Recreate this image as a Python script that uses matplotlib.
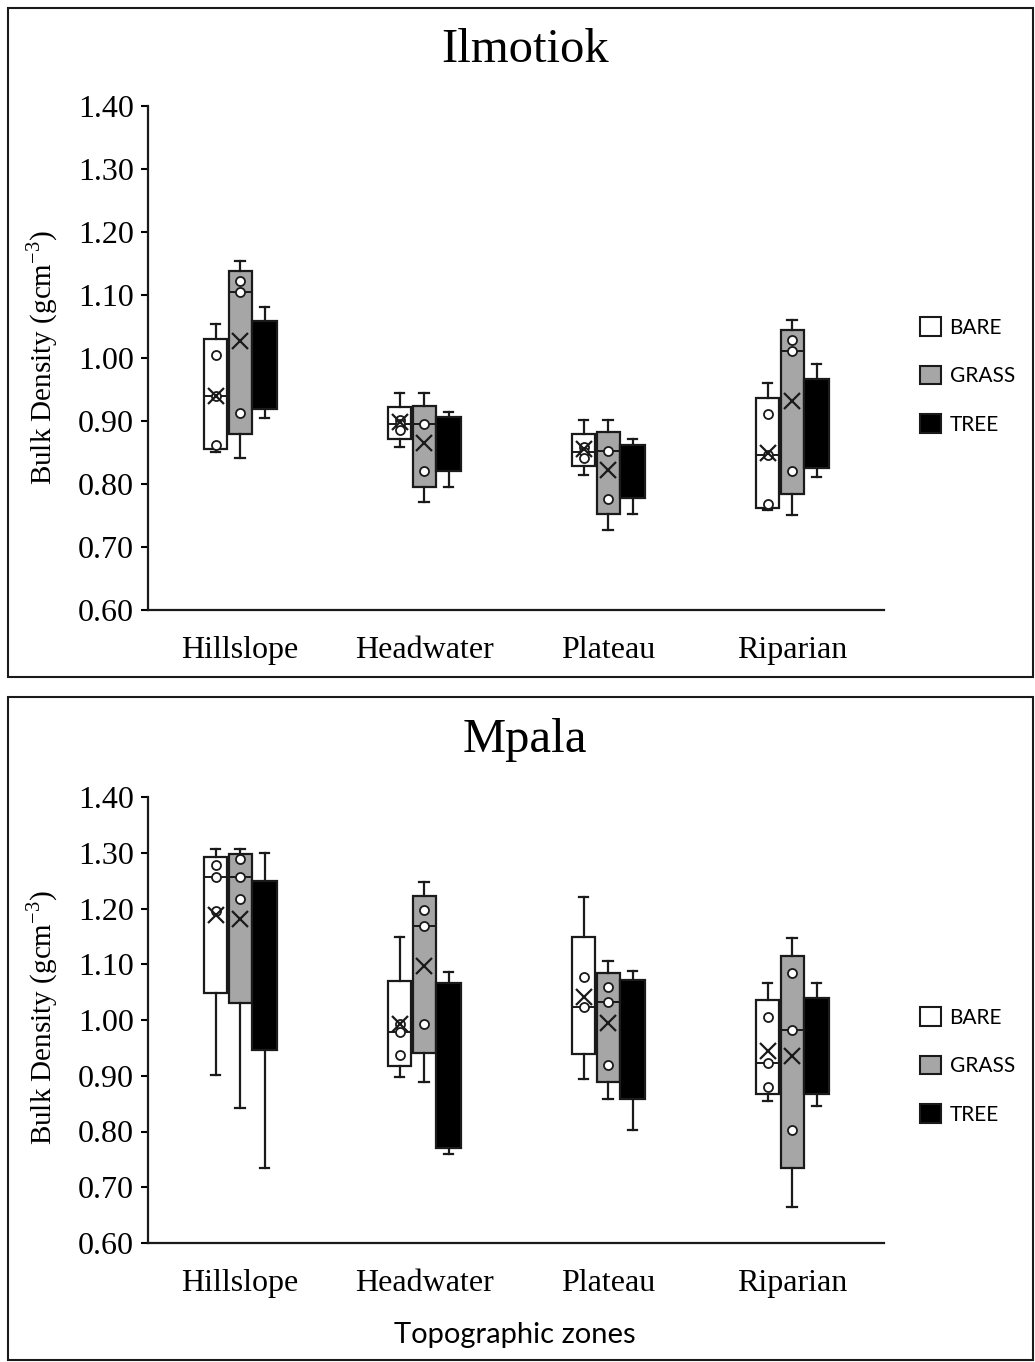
import numpy as np
import matplotlib
matplotlib.use('Agg')
import matplotlib.pyplot as plt
from matplotlib.patches import Patch, Rectangle

plt.rcParams['font.family'] = ['Liberation Serif', 'DejaVu Serif']
plt.rcParams['mathtext.fontset'] = 'custom'
plt.rcParams['mathtext.rm'] = 'Liberation Serif'

zones = ['Hillslope', 'Headwater', 'Plateau', 'Riparian']
groups = ['BARE', 'GRASS', 'TREE']
colors = ['white', '#a6a6a6', 'black']

# Ilmotiok, lists are [BARE, GRASS, TREE], each over the four zones
ilm_whislo = [[0.851, 0.859, 0.814, 0.758],
              [0.842, 0.771, 0.727, 0.750],
              [0.904, 0.796, 0.753, 0.811]]
ilm_q1 = [[0.855, 0.871, 0.828, 0.762],
          [0.879, 0.795, 0.752, 0.784],
          [0.919, 0.821, 0.777, 0.825]]
ilm_med = [[0.940, 0.896, 0.851, 0.846],
           [1.105, 0.896, 0.852, 1.011],
           [np.nan, np.nan, np.nan, np.nan]]
ilm_q3 = [[1.030, 0.922, 0.879, 0.936],
          [1.138, 0.924, 0.882, 1.044],
          [1.059, 0.906, 0.862, 0.966]]
ilm_whishi = [[1.054, 0.944, 0.901, 0.961],
              [1.154, 0.944, 0.901, 1.060],
              [1.081, 0.914, 0.871, 0.991]]
ilm_mean = [[0.940, 0.899, 0.855, 0.849],
            [1.027, 0.865, 0.823, 0.932],
            [np.nan, np.nan, np.nan, np.nan]]
ilm_points = [[[1.004, 0.940, 0.862], [0.901, 0.896, 0.886], [0.859, 0.851, 0.841], [0.911, 0.846, 0.768]],
              [[1.122, 1.105, 0.913], [0.896, 0.821], [0.852, 0.776], [1.029, 1.011, 0.820]],
              [[], [], [], []]]

# Mpala
mpa_whislo = [[0.901, 0.898, 0.895, 0.855],
              [0.843, 0.889, 0.858, 0.665],
              [0.734, 0.759, 0.803, 0.846]]
mpa_q1 = [[1.048, 0.917, 0.939, 0.867],
          [1.030, 0.940, 0.888, 0.734],
          [0.947, 0.770, 0.858, 0.867]]
mpa_med = [[1.257, 0.978, 1.024, 0.922],
           [1.257, 1.169, 1.033, 0.982],
           [np.nan, np.nan, np.nan, np.nan]]
mpa_q3 = [[1.293, 1.070, 1.148, 1.035],
          [1.298, 1.222, 1.084, 1.115],
          [1.249, 1.067, 1.071, 1.039]]
mpa_whishi = [[1.307, 1.148, 1.221, 1.066],
              [1.307, 1.248, 1.106, 1.147],
              [1.300, 1.086, 1.087, 1.066]]
mpa_mean = [[1.188, 0.992, 1.042, 0.945],
            [1.181, 1.097, 0.995, 0.935],
            [np.nan, np.nan, np.nan, np.nan]]
mpa_points = [[[1.278, 1.257, 1.196], [0.993, 0.978, 0.937], [1.077, 1.024], [1.006, 0.922, 0.879]],
              [[1.288, 1.257, 1.217], [1.197, 1.169, 0.992], [1.060, 1.033, 0.919], [1.084, 0.982, 0.803]],
              [[], [], [], []]]

yticks = [0.60, 0.70, 0.80, 0.90, 1.00, 1.10, 1.20, 1.30, 1.40]

W, H = 1035, 1362
fig = plt.figure(figsize=(W / 100, H / 100), dpi=100)

offsets = [-0.133, 0.0, 0.135]
widths = [0.125, 0.125, 0.135]


def draw_panel(ax, whislo, q1, med, q3, whishi, mean, points):
    x = np.arange(len(zones))
    for g in range(3):
        stats = []
        for z in range(len(zones)):
            stats.append({'whislo': whislo[g][z], 'q1': q1[g][z], 'med': med[g][z],
                          'q3': q3[g][z], 'whishi': whishi[g][z], 'fliers': []})
        ax.bxp(stats, positions=x + offsets[g], widths=widths[g], patch_artist=True,
               showfliers=False, capwidths=0.05,
               boxprops=dict(facecolor=colors[g], edgecolor='#1a1a1a', linewidth=1.6),
               whiskerprops=dict(color='#1a1a1a', linewidth=1.6),
               capprops=dict(color='#1a1a1a', linewidth=1.6),
               medianprops=dict(color='#1a1a1a', linewidth=1.4), manage_ticks=False)
        for z in range(len(zones)):
            pts = points[g][z]
            ax.plot([x[z] + offsets[g]] * len(pts), pts, 'o', ms=6.5, mfc='white',
                    mec='#1a1a1a', mew=1.3, zorder=4)
        ax.plot(x + offsets[g], mean[g], 'x', ms=11, color='#1a1a1a', mew=1.6, zorder=5)
    ax.set_xlim(-0.5, len(zones) - 0.5)
    ax.set_ylim(0.60, 1.40)
    ax.set_yticks(yticks)
    ax.set_yticklabels([f'{v:.2f}' for v in yticks])
    ax.set_xticks(x)
    ax.set_xticklabels(zones)
    ax.tick_params(axis='x', length=0, pad=19, labelsize=23)
    ax.tick_params(axis='y', length=5, width=1.5, pad=5, labelsize=23)
    for s in ['top', 'right']:
        ax.spines[s].set_visible(False)
    for s in ['left', 'bottom']:
        ax.spines[s].set_linewidth(1.6)
        ax.spines[s].set_color('#1a1a1a')


ax1 = fig.add_axes([148 / W, 1 - 610 / H, 736 / W, 504 / H])
draw_panel(ax1, ilm_whislo, ilm_q1, ilm_med, ilm_q3, ilm_whishi, ilm_mean, ilm_points)
ax2 = fig.add_axes([148 / W, 1 - 1243 / H, 736 / W, 446 / H])
draw_panel(ax2, mpa_whislo, mpa_q1, mpa_med, mpa_q3, mpa_whishi, mpa_mean, mpa_points)

# panel frames
for y0, y1 in [(8, 677), (697, 1360)]:
    fig.patches.append(Rectangle((8 / W, 1 - y1 / H), 1025 / W, (y1 - y0) / H,
                                 transform=fig.transFigure, fill=False,
                                 edgecolor='#1a1a1a', linewidth=1.5))

fig.text(525 / W, 1 - 50 / H, 'Ilmotiok', ha='center', va='center', fontsize=35)
fig.text(525 / W, 1 - 740 / H, 'Mpala', ha='center', va='center', fontsize=35)

ylabel = r'Bulk Density (gcm$^{\mathrm{-3}}$)'
fig.text(42 / W, 1 - 358 / H, ylabel, rotation=90, ha='center', va='center', fontsize=21)
fig.text(42 / W, 1 - 1018 / H, ylabel, rotation=90, ha='center', va='center', fontsize=21)

fig.text(515 / W, 1 - 1335 / H, 'Topographic zones', ha='center', va='center',
         fontsize=21, family=['Lato', 'DejaVu Sans'])

handles = [Patch(facecolor=c, edgecolor='#1a1a1a', linewidth=1.5) for c in colors]
for yc in [376, 1066]:
    fig.legend(handles, groups, loc='center left', bbox_to_anchor=(910 / W, 1 - yc / H),
               frameon=False, borderpad=0, handlelength=1.0, handleheight=1.0,
               handletextpad=0.4, labelspacing=1.35,
               prop={'family': ['Lato', 'DejaVu Sans'], 'size': 15})

fig.savefig('out.png', dpi=100)
